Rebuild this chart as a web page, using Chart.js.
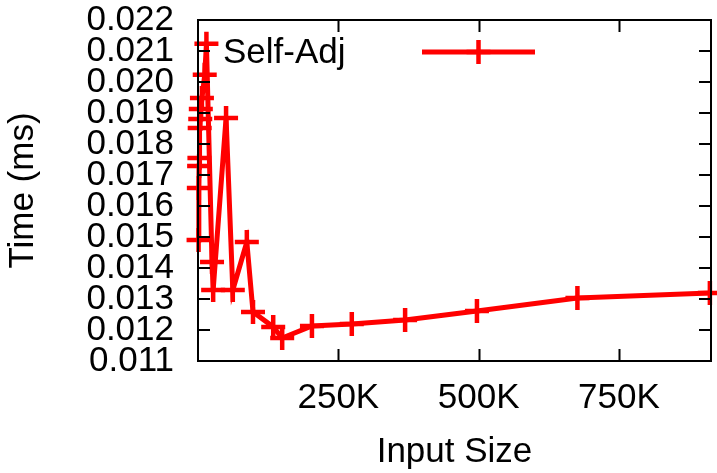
<!DOCTYPE html>
<html>
<head>
<meta charset="utf-8">
<script src="https://cdn.jsdelivr.net/npm/chart.js@4/dist/chart.umd.min.js"></script>
<style>
  html, body { margin: 0; padding: 0; background: #ffffff; }
  #wrap { width: 717px; height: 473px; }
</style>
</head>
<body>
<div id="wrap"><canvas id="c" width="717" height="473"></canvas></div>
<script>
// ---- Data ----
const seriesName = "Self-Adj";
const inputSizes = [1000, 1500, 2000, 2500, 3000, 4000, 5000, 7000, 12000, 15000,
                    25000, 27000, 50000, 62000, 87000, 98000, 134000, 150000,
                    203000, 274000, 369000, 497000, 676000, 912000];
const timesMs = [0.01490, 0.01658, 0.01729, 0.01755, 0.01852, 0.01881, 0.01913, 0.01948, 0.02023, 0.02123,
                 0.01419, 0.01329, 0.01884, 0.01329, 0.01484, 0.01258, 0.01210, 0.01174,
                 0.01213, 0.01219, 0.01232, 0.01261, 0.01303, 0.01319];
const xTickValues = [250000, 500000, 750000];
const xTickLabels = ["250K", "500K", "750K"];
const yTickValues = [0.011, 0.012, 0.013, 0.014, 0.015, 0.016, 0.017, 0.018, 0.019, 0.020, 0.021, 0.022];
const yTickLabels = ["0.011", "0.012", "0.013", "0.014", "0.015", "0.016", "0.017", "0.018", "0.019", "0.020", "0.021", "0.022"];
const xMin = 0, xMax = 914000;
const yMin = 0.011, yMax = 0.022;
const xTitle = "Input Size";
const yTitle = "Time (ms)";

const FONT = "'Liberation Sans', Arial, Helvetica, sans-serif";
const RED = "#ff0000";

const points = inputSizes.map((x, i) => ({ x: x, y: timesMs[i] }));

const framePlugin = {
  id: 'gnuplotFrame',
  afterDatasetsDraw(chart) {
    const ctx = chart.ctx;
    const a = chart.chartArea;
    const xs = chart.scales.x, ys = chart.scales.y;
    const tl = 12;
    ctx.save();
    ctx.strokeStyle = '#000';
    ctx.lineWidth = 2;
    ctx.lineCap = 'butt';
    ctx.beginPath();
    xTickValues.forEach(v => {
      const px = Math.round(xs.getPixelForValue(v)) + 0.5;
      ctx.moveTo(px, a.bottom); ctx.lineTo(px, a.bottom - tl);
      ctx.moveTo(px, a.top); ctx.lineTo(px, a.top + tl);
    });
    yTickValues.forEach(v => {
      const py = Math.round(ys.getPixelForValue(v));
      ctx.moveTo(a.left, py); ctx.lineTo(a.left + tl, py);
      ctx.moveTo(a.right, py); ctx.lineTo(a.right - tl, py);
    });
    ctx.stroke();
    ctx.strokeRect(a.left, a.top, a.right - a.left, a.bottom - a.top);

    // legend (gnuplot style: text, then sample line with marker)
    const ds = chart.data.datasets[0];
    ctx.fillStyle = '#000';
    ctx.font = "35px " + FONT;
    ctx.textAlign = 'left';
    ctx.textBaseline = 'middle';
    ctx.fillText(ds.label, 223, 53);
    ctx.strokeStyle = ds.borderColor;
    ctx.lineWidth = ds.borderWidth;
    ctx.beginPath();
    ctx.moveTo(422, 52); ctx.lineTo(535, 52);
    ctx.stroke();
    ctx.lineWidth = ds.pointBorderWidth;
    ctx.beginPath();
    ctx.moveTo(478.5 - ds.pointRadius, 52); ctx.lineTo(478.5 + ds.pointRadius, 52);
    ctx.moveTo(478.5, 52 - ds.pointRadius); ctx.lineTo(478.5, 52 + ds.pointRadius);
    ctx.stroke();
    ctx.restore();
  }
};

function zeroPad(s) { s.paddingLeft = 0; s.paddingRight = 0; s.paddingTop = 0; s.paddingBottom = 0; }

new Chart(document.getElementById('c'), {
  type: 'line',
  data: {
    datasets: [{
      label: seriesName,
      data: points,
      borderColor: RED,
      backgroundColor: RED,
      borderWidth: 5,
      pointStyle: 'cross',
      pointRadius: 12,
      pointBorderWidth: 4.5,
      pointBorderColor: RED,
      pointHoverRadius: 12,
      tension: 0,
      fill: false,
      clip: false
    }]
  },
  options: {
    responsive: false,
    animation: false,
    devicePixelRatio: 1,
    layout: { autoPadding: false, padding: { left: 0, right: 6, top: 20, bottom: 0 } },
    plugins: { legend: { display: false }, tooltip: { enabled: false } },
    scales: {
      x: {
        type: 'linear',
        min: xMin, max: xMax,
        grid: { display: false, drawTicks: false },
        border: { display: false },
        afterBuildTicks: s => { s.ticks = xTickValues.map(v => ({ value: v })); },
        afterFit: s => { s.height = 112; zeroPad(s); },
        ticks: {
          autoSkip: false, maxRotation: 0,
          padding: 16,
          color: '#000',
          font: { family: FONT, size: 35 },
          callback: (v) => { const i = xTickValues.indexOf(v); return i >= 0 ? xTickLabels[i] : ''; }
        },
        title: {
          display: true, text: xTitle, color: '#000',
          font: { family: FONT, size: 35 },
          padding: { top: 0, bottom: 0 }
        }
      },
      y: {
        type: 'linear',
        min: yMin, max: yMax,
        grid: { display: false, drawTicks: false },
        border: { display: false },
        afterBuildTicks: s => { s.ticks = yTickValues.map(v => ({ value: v })); },
        afterFit: s => { s.width = 198; zeroPad(s); },
        ticks: {
          autoSkip: false,
          padding: 24,
          color: '#000',
          font: { family: FONT, size: 35 },
          callback: (v) => { const i = yTickValues.findIndex(t => Math.abs(t - v) < 1e-9); return i >= 0 ? yTickLabels[i] : ''; }
        },
        title: {
          display: true, text: yTitle, color: '#000',
          font: { family: FONT, size: 35 },
          padding: { top: 2, bottom: 0 }
        }
      }
    }
  },
  plugins: [framePlugin]
});
</script>
</body>
</html>
